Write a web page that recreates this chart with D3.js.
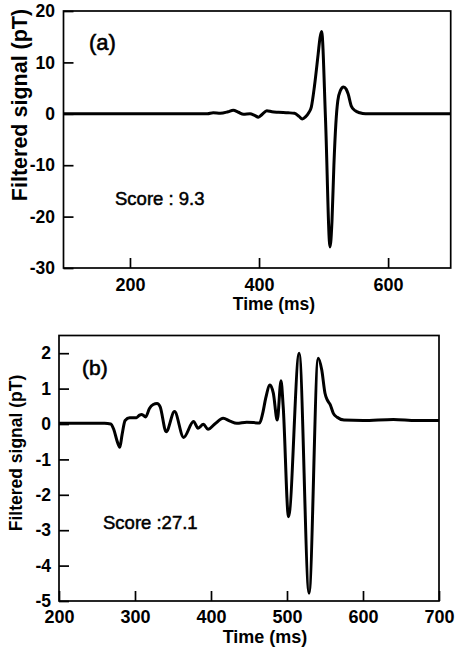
<!DOCTYPE html>
<html>
<head>
<meta charset="utf-8">
<script src="https://cdn.jsdelivr.net/npm/d3@7"></script>
<style>
  body { margin: 0; background: #fff; }
  text { font-family: "Liberation Sans", Arial, sans-serif; fill: #000; }
</style>
</head>
<body>
<div id="chart"></div>
<script>
// Panel (a) trace
var timeA = [97, 200, 320, 329, 340, 352, 360, 368, 376, 386, 393, 399, 405, 412, 420, 430, 445, 455, 462, 467, 472, 477,
  481, 486, 491.6, 494.5, 497, 503, 510, 513, 516, 519, 522, 526, 531, 535, 538, 543, 549, 556, 565, 600, 697];
var signalA = [0, 0, 0, 0.2, 0.1, 0.4, 0.7, 0.3, -0.1, 0, -0.3, -0.65, -0.1, 0.6, 0.4, 0.3, 0.2, 0.1, -0.5, -1.0, -0.6, 0.2,
  1.3, 5.5, 11.6, 14.8, 16, -1, -25.9, -21, -10, -2, 2.5, 4.5, 5.2, 4.8, 3.9, 1.5, 0.6, 0.2, 0, 0, 0];

// Panel (b) trace
var timeB = [200, 230, 260, 268, 272, 276, 280, 283, 287, 293, 302, 306, 309, 314, 319, 324, 329, 333, 341, 352, 364, 377,
  383, 390, 396, 405, 416, 425, 434, 447, 464, 468, 472, 477.6, 482, 487.2, 492.1, 495, 502, 516, 529, 541, 545.7, 550,
  553, 557, 561, 566, 575, 600, 640, 670, 700];
var signalB = [0.02, 0.02, 0.02, 0, -0.15, -0.45, -0.66, -0.3, 0.1, 0.18, 0.18, 0.25, 0.27, 0.2, 0.44, 0.55, 0.58, 0.49,
  -0.22, 0.35, -0.38, 0.07, -0.12, -0.01, -0.15, 0.0, 0.16, 0.08, 0.02, 0.05, 0.03, 0.3, 0.73, 1.1, 0.87, 0.11, 1.22, 0.49,
  -2.62, 2.0, -4.78, 1.86, 1.53, 0.87, 0.68, 0.54, 0.3, 0.19, 0.11, 0.1, 0.13, 0.1, 0.1];

var xTicksA = [200, 400, 600];
var yTicksA = [20, 10, 0, -10, -20, -30];
var xTicksB = [200, 300, 400, 500, 600, 700];
var yTicksB = [2, 1, 0, -1, -2, -3, -4, -5];

var svg = d3.select("#chart")
  .append("svg")
  .attr("width", 455)
  .attr("height", 648);

// plain hyphen for negatives, like the original
var fmt = function(d) { return String(d); };

function drawPanel(p) {
  var x = d3.scaleLinear().domain(p.xDomain).range(p.xRange);
  var y = d3.scaleLinear().domain(p.yDomain).range(p.yRange);
  var g = svg.append("g");

  var bottomAxis = d3.axisBottom(x).tickValues(p.xTicks).tickSize(-10).tickPadding(p.xPad).tickFormat(fmt);
  var leftAxis = d3.axisLeft(y).tickValues(p.yTicks).tickSize(-10).tickPadding(p.yPad).tickFormat(fmt);

  var xa = g.append("g")
    .attr("transform", `translate(0, ${p.yRange[0]})`)
    .call(bottomAxis);
  var ya = g.append("g")
    .attr("transform", `translate(${p.xRange[0]}, 0)`)
    .call(leftAxis);

  [xa, ya].forEach(function(a) {
    a.select(".domain").remove();
    a.selectAll("line").attr("stroke", "#000").attr("stroke-width", 1.7);
    a.selectAll("text")
      .style("font-family", '"Liberation Sans", Arial, sans-serif')
      .style("font-weight", "bold")
      .attr("fill", "#000");
  });
  xa.selectAll("text").style("font-size", "18px");
  ya.selectAll("text").style("font-size", "17.5px");

  // frame
  g.append("rect")
    .attr("x", p.xRange[0])
    .attr("y", p.yRange[1])
    .attr("width", p.xRange[1] - p.xRange[0])
    .attr("height", p.yRange[0] - p.yRange[1])
    .attr("fill", "none")
    .attr("stroke", "#000")
    .attr("stroke-width", 1.7);

  var line = d3.line()
    .x(function(d, i) { return x(p.time[i]); })
    .y(function(d) { return y(d); })
    .curve(d3.curveMonotoneX);

  g.append("path")
    .datum(p.signal)
    .attr("d", line)
    .attr("fill", "none")
    .attr("stroke", "#000")
    .attr("stroke-width", 3)
    .attr("stroke-linejoin", "round");

  // axis titles
  g.append("text")
    .attr("x", p.xTitle[0])
    .attr("y", p.xTitle[1])
    .attr("text-anchor", "middle")
    .style("font-size", p.xTitleSize + "px")
    .style("font-weight", "bold")
    .text("Time (ms)");

  g.append("text")
    .attr("transform", `translate(${p.yTitle[0]}, ${p.yTitle[1]}) rotate(-90)`)
    .attr("text-anchor", "middle")
    .style("font-size", p.yTitleSize + "px")
    .style("font-weight", "bold")
    .text("Filtered signal (pT)");

  // panel tag and score, regular face thickened a little like the print
  g.append("text")
    .attr("x", p.tag[0])
    .attr("y", p.tag[1])
    .style("font-size", p.tagSize + "px")
    .attr("stroke", "#000")
    .attr("stroke-width", 0.6)
    .text(p.tagText);

  g.append("text")
    .attr("x", p.score[0])
    .attr("y", p.score[1])
    .style("font-size", "18.5px")
    .attr("stroke", "#000")
    .attr("stroke-width", 0.5)
    .text(p.scoreText);
}

drawPanel({
  time: timeA, signal: signalA,
  xDomain: [97, 697], xRange: [63.5, 450.7],
  yDomain: [-30, 20], yRange: [268, 11],
  xTicks: xTicksA, yTicks: yTicksA, xPad: 10, yPad: 8.5,
  xTitle: [274, 310], xTitleSize: 17.5, yTitle: [27, 105], yTitleSize: 21.5,
  tag: [89, 50], tagSize: 22, tagText: "(a)",
  score: [115, 205], scoreText: "Score : 9.3"
});

drawPanel({
  time: timeB, signal: signalB,
  xDomain: [200, 700], xRange: [59, 439],
  yDomain: [-5, 2.5], yRange: [601, 335.5],
  xTicks: xTicksB, yTicks: yTicksB, xPad: 9, yPad: 8,
  xTitle: [265, 643], xTitleSize: 18, yTitle: [21.5, 453], yTitleSize: 17.5,
  tag: [82, 375], tagSize: 21, tagText: "(b)",
  score: [103, 529], scoreText: "Score :27.1"
});
</script>
</body>
</html>
